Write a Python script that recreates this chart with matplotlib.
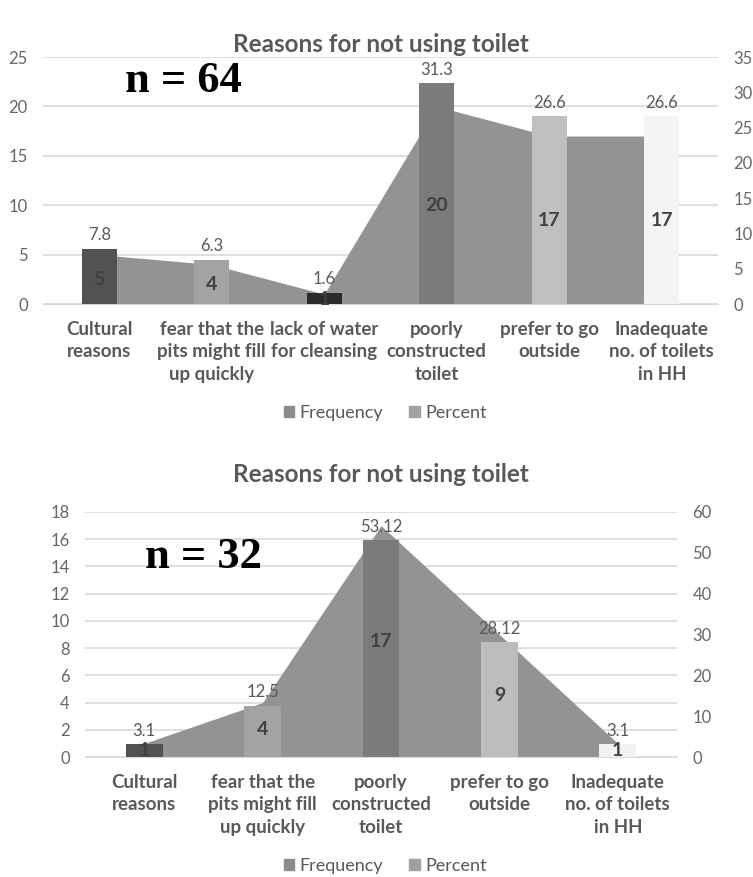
import matplotlib
matplotlib.use("Agg")
import matplotlib.pyplot as plt
from matplotlib.patches import Patch

plt.rcParams['font.family'] = ['Lato', 'DejaVu Sans']

# first survey (n = 64)
top_cats = ["Cultural\nreasons", "fear that the\npits might fill\nup quickly",
            "lack of water\nfor cleansing", "poorly\nconstructed\ntoilet",
            "prefer to go\noutside", "Inadequate\nno. of toilets\nin HH"]
top_freq = [5, 4, 1, 20, 17, 17]
top_pct = [7.8, 6.3, 1.6, 31.3, 26.6, 26.6]
top_bar_colors = ["#525252", "#a3a3a3", "#2b2b2b", "#7b7b7b", "#bfbfbf", "#f4f4f4"]

# second survey (n = 32)
bot_cats = ["Cultural\nreasons", "fear that the\npits might fill\nup quickly",
            "poorly\nconstructed\ntoilet", "prefer to go\noutside",
            "Inadequate\nno. of toilets\nin HH"]
bot_freq = [1, 4, 17, 9, 1]
bot_pct = [3.1, 12.5, 53.12, 28.12, 3.1]
bot_bar_colors = ["#525252", "#a3a3a3", "#7b7b7b", "#bdbdbd", "#f2f2f2"]

AREA = "#939393"
GRID = "#d9d9d9"
TXT = "#595959"

W, H = 753, 877
fig = plt.figure(figsize=(W / 100, H / 100), dpi=100)


def box(x0, y0, x1, y1):
    # pixel box (top-left origin) -> figure fraction rect
    return [x0 / W, 1 - y1 / H, (x1 - x0) / W, (y1 - y0) / H]


def draw_panel(rect, cats, freq, pct, colors, fmax, fstep, pmax, pstep, n_text, n_xy, title_y, legend_y):
    ax = fig.add_axes(rect)
    ax2 = ax.twinx()
    x = list(range(len(cats)))

    ax.fill_between(x, 0, freq, color=AREA, lw=0, zorder=2)
    ax.set_ylim(0, fmax)
    ax.set_yticks(range(0, fmax + 1, fstep))
    ax.set_xlim(-0.5, len(cats) - 0.5)
    ax.grid(axis='y', color=GRID, lw=1.2)
    ax.set_axisbelow(True)

    ax2.bar(x, pct, width=0.31, color=colors, zorder=3)
    ax2.set_ylim(0, pmax)
    ax2.set_yticks(range(0, pmax + 1, pstep))

    for a in (ax, ax2):
        for s in a.spines.values():
            s.set_visible(False)
        a.tick_params(length=0, labelsize=12, labelcolor="#666666", pad=11)
    ax.spines['bottom'].set_visible(True)
    ax.spines['bottom'].set_color(GRID)
    ax.set_xticks(x)
    ax.set_xticklabels(cats, fontsize=13.5, fontweight='bold', color=TXT, linespacing=1.4)
    ax.tick_params(axis='x', pad=12)

    for xi, p in zip(x, pct):
        ax2.annotate(str(p), (xi, p), xytext=(0, 4), textcoords='offset points',
                     ha='center', va='bottom', fontsize=12, color=TXT)
    for xi, f in zip(x, freq):
        ax2.text(xi, f / 2, str(f), transform=ax.transData, ha='center', va='center',
                 fontsize=14, fontweight='bold', color="#404040", zorder=5)

    fig.text(381 / W, 1 - title_y / H, "Reasons for not using toilet", ha='center', va='center',
             fontsize=17.5, fontweight='bold', color=TXT)
    fig.text(n_xy[0] / W, 1 - n_xy[1] / H, n_text, ha='center', va='center',
             fontsize=32, fontweight='bold', family='Liberation Serif', color='black')

    handles = [Patch(color="#8c8c8c", label="Frequency"), Patch(color="#a0a0a0", label="Percent")]
    fig.legend(handles=handles, loc='center', bbox_to_anchor=(385 / W, 1 - legend_y / H), ncol=2,
               frameon=False, fontsize=13, labelcolor=TXT, handlelength=0.6, handleheight=0.6,
               handletextpad=0.3, columnspacing=1.4)


draw_panel(box(43, 57, 718, 304), top_cats, top_freq, top_pct, top_bar_colors,
           25, 5, 35, 5, "n = 64", (183, 81), 45, 413)
draw_panel(box(85, 512, 677, 757), bot_cats, bot_freq, bot_pct, bot_bar_colors,
           18, 2, 60, 10, "n = 32", (203, 557), 475, 866)

fig.savefig("out.png", dpi=100, facecolor='white')
